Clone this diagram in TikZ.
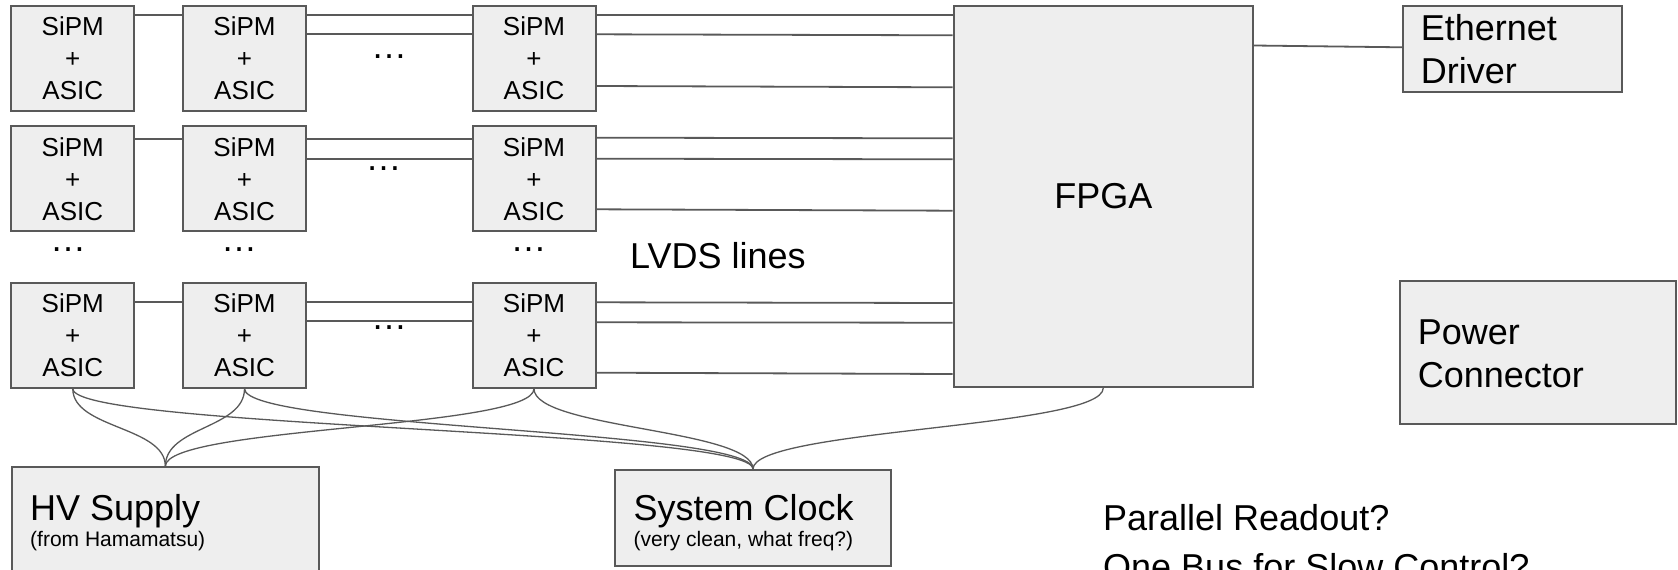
\documentclass[tikz,border=0pt]{standalone}
\usepackage{fontspec}
\setmainfont{Liberation Sans}
\definecolor{linegray}{HTML}{595959}
\definecolor{boxfill}{HTML}{EEEEEE}
\newcommand\myBig{\fontsize{36}{43.5}\selectfont}
\newcommand\mySmall{\fontsize{21}{25}\selectfont}
\newcommand\mySipm{\fontsize{26}{32}\selectfont}
\begin{document}
\begin{tikzpicture}[x=1pt,y=-1pt,
  box/.style={draw=linegray, line width=2pt, fill=boxfill, inner sep=0pt, anchor=north west},
  sipm/.style={box, minimum width=123pt, minimum height=105pt, align=center, font=\mySipm},
  conn/.style={draw=linegray, line width=1.8pt},
  wire/.style={draw=linegray, line width=1.3pt},
  lbl/.style={inner sep=0pt, anchor=base west, text=black},
  dots/.style={inner sep=0pt, anchor=base, font=\myBig},
]
\useasboundingbox (0,0) rectangle (1678,570);
\clip (0,0) rectangle (1678,570);

% SiPM + ASIC boxes
\node[sipm] (s11) at (10.3,4.7) {SiPM\\+\\ASIC};
\node[sipm] (s12) at (182,4.7) {SiPM\\+\\ASIC};
\node[sipm] (s13) at (471.5,4.7) {SiPM\\+\\ASIC};
\node[sipm] (s21) at (10.3,125.3) {SiPM\\+\\ASIC};
\node[sipm] (s22) at (182,125.3) {SiPM\\+\\ASIC};
\node[sipm] (s23) at (471.5,125.3) {SiPM\\+\\ASIC};
\node[sipm] (s31) at (10.3,281.7) {SiPM\\+\\ASIC};
\node[sipm] (s32) at (182,281.7) {SiPM\\+\\ASIC};
\node[sipm] (s33) at (471.5,281.7) {SiPM\\+\\ASIC};

% FPGA and other blocks
\node[box, minimum width=299.5pt, minimum height=381pt, font=\myBig] (fpga) at (952.5,5) {FPGA};
\node[box, minimum width=219pt, minimum height=86pt] (eth) at (1402,5) {};
\node[lbl, font=\myBig] (etha) at (1420.7,40) {Ethernet};
\node[lbl, font=\myBig] (ethb) at (1420.7,83.5) {Driver};
\node[box, minimum width=276pt, minimum height=143pt] (pwr) at (1399,280) {};
\node[lbl, font=\myBig] (pwra) at (1417.7,344) {Power};
\node[lbl, font=\myBig] (pwrb) at (1417.7,387.5) {Connector};
\node[box, minimum width=307.3pt, minimum height=160pt] (hv) at (10.7,466.3) {};
\node[lbl, font=\myBig] (hva) at (30,520.5) {HV Supply};
\node[lbl, font=\mySmall] (hvb) at (30,546.5) {(from Hamamatsu)};
\node[box, minimum width=276pt, minimum height=96pt] (clk) at (614,469) {};
\node[lbl, font=\myBig] (clka) at (633.5,520.5) {System Clock};
\node[lbl, font=\mySmall] (clkb) at (633.5,546.5) {(very clean, what freq?)};
\node[lbl, font=\myBig] (lvds) at (630,268) {LVDS lines};
\node[lbl, font=\myBig] (q1) at (1103,530.7) {Parallel Readout?};
\node[lbl, font=\myBig] (q2) at (1103,579) {One Bus for Slow Control?};

% dots
\node[dots] (d1) at (389,58.5) {…};
\node[dots] (d2) at (383.5,170) {…};
\node[dots] (d3) at (389,329.5) {…};
\node[dots] (d4) at (68,251.5) {…};
\node[dots] (d5) at (239,251.5) {…};
\node[dots] (d6) at (528.5,251.5) {…};

% row 1 connectors
\draw[conn] (s11.east |- 0,14.7) -- (s12.west |- 0,14.7);
\draw[conn] (s12.east |- 0,14.7) -- (s13.west |- 0,14.7);
\draw[conn] (s12.east |- 0,34) -- (s13.west |- 0,34);
\draw[conn] (s13.east |- 0,14.7) -- (fpga.west |- 0,14.7);
\draw[conn] (s13.east |- 0,34.3) -- (fpga.west |- 0,35.3);
\draw[conn] (s13.east |- 0,86) -- (fpga.west |- 0,87.3);
% row 2 connectors
\draw[conn] (s21.east |- 0,138.7) -- (s22.west |- 0,138.7);
\draw[conn] (s22.east |- 0,138.7) -- (s23.west |- 0,138.7);
\draw[conn] (s22.east |- 0,158.7) -- (s23.west |- 0,158.7);
\draw[conn] (s23.east |- 0,137.7) -- (fpga.west |- 0,138.3);
\draw[conn] (s23.east |- 0,158.7) -- (fpga.west |- 0,159.3);
\draw[conn] (s23.east |- 0,209.3) -- (fpga.west |- 0,210.7);
% row 3 connectors
\draw[conn] (s31.east |- 0,301.7) -- (s32.west |- 0,301.7);
\draw[conn] (s32.east |- 0,301.7) -- (s33.west |- 0,301.7);
\draw[conn] (s32.east |- 0,321) -- (s33.west |- 0,321);
\draw[conn] (s33.east |- 0,302.3) -- (fpga.west |- 0,303);
\draw[conn] (s33.east |- 0,322.3) -- (fpga.west |- 0,322.7);
\draw[conn] (s33.east |- 0,372.7) -- (fpga.west |- 0,374);
% FPGA to Ethernet
\draw[conn] (fpga.east |- 0,45.5) -- (eth.west |- 0,47.3);

% curved wires to HV supply and system clock
\foreach \s in {s31,s32,s33}{
  \draw[wire] (\s.south) .. controls +(0,40) and +(0,-40) .. (hv.north);
  \draw[wire] (\s.south) .. controls +(0,40) and +(0,-40) .. (clk.north);
}
\draw[wire] (fpga.south) .. controls +(0,40) and +(0,-40) .. (clk.north);
\end{tikzpicture}
\end{document}
